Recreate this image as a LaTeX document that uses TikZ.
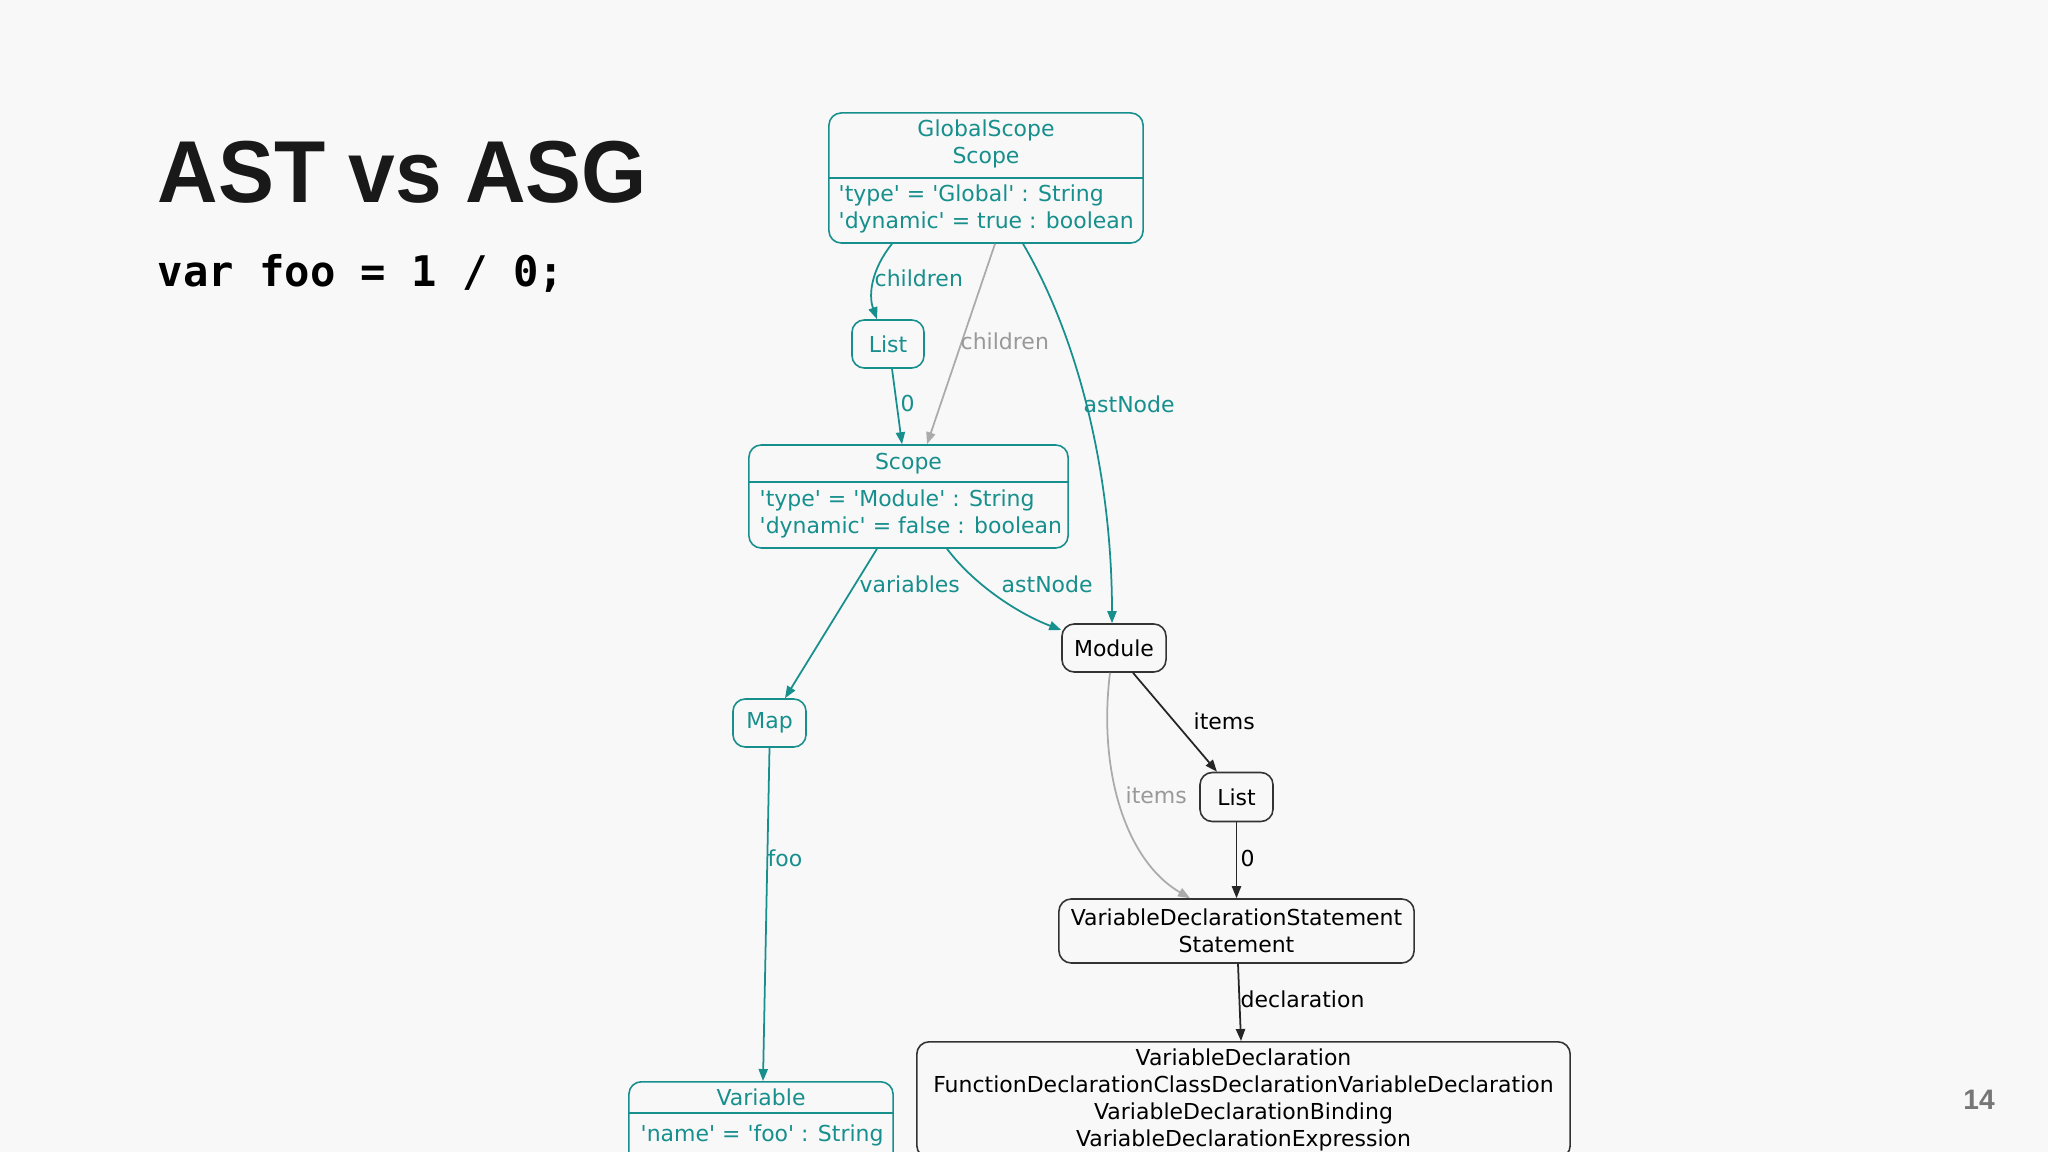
\documentclass[tikz,border=0pt]{standalone}
\usepackage{fontspec}
\usepackage{tikz}
\usetikzlibrary{arrows.meta}
\setmainfont{DejaVu Sans}
\newfontfamily\titlefont{Liberation Sans}
\newfontfamily\codefont{DejaVu Sans Mono}
\definecolor{bg}{HTML}{F8F8F9}
\definecolor{tealc}{HTML}{178F8C}
\definecolor{edgegray}{HTML}{ABABAB}
\definecolor{lblgray}{HTML}{999999}
\definecolor{pagegray}{HTML}{767676}
\newcommand\nodefont{\fontsize{6.25}{7.7}\selectfont}
\newcommand\squote{\textquotesingle}

\begin{document}
\begin{tikzpicture}[x=0.01cm,y=-0.01cm,
    >={Triangle[length=3.4pt,width=2.6pt]},
    box/.style={draw,rounded corners=3.5pt,line width=0.45pt,inner sep=0pt,font=\nodefont,align=center},
    tbox/.style={box,draw=tealc,text=tealc},
    kbox/.style={box,draw=black!80,text=black},
    lbl/.style={font=\nodefont,anchor=west,inner sep=0pt},
    tedge/.style={->,tealc,line width=0.5pt},
    gedge/.style={->,edgegray,line width=0.5pt},
    kedge/.style={->,black!85,line width=0.5pt}]
    \fill[bg] (0,0) rectangle (2048,1152);
    \clip (0,0) rectangle (2048,1152);

    \node[anchor=base west,inner sep=0pt,text=black!90,font=\titlefont\bfseries\fontsize{25}{30}\selectfont] (title) at (157,203) {\scalebox{0.954}[1]{AST vs ASG}};
    \node[anchor=base west,inner sep=0pt,font=\codefont\bfseries\fontsize{12}{14}\selectfont] (code) at (157,287) {var foo = 1 / 0;};
    \node[text=pagegray,font=\titlefont\bfseries\fontsize{8}{10}\selectfont] (page) at (1979,1100) {14};

    \node[tbox,minimum width=3.14cm,minimum height=1.30cm] (gscope) at (986,178) {};
    \draw[tealc,line width=0.45pt] (gscope.west) -- (gscope.east);
    \node[font=\nodefont,text=tealc,align=center,inner sep=0pt] (gscope-name) at (986,143.5) {GlobalScope\\Scope};
    \node[font=\nodefont,text=tealc,align=left,anchor=west,inner sep=0pt] (gscope-attr) at (838,208.5) {\squote type\squote{} = \squote Global\squote{} : String\\\squote dynamic\squote{} = true : boolean};

    \node[tbox,minimum width=0.72cm,minimum height=0.48cm] (list1) at (888,344) {List};

    \node[tbox,minimum width=3.19cm,minimum height=1.03cm] (scope) at (908.5,496.5) {};
    \draw[tealc,line width=0.45pt] ([yshift=-0.38cm]scope.north west) -- ([yshift=-0.38cm]scope.north east);
    \node[font=\nodefont,text=tealc,inner sep=0pt] (scope-name) at (908.5,464) {Scope};
    \node[font=\nodefont,text=tealc,align=left,anchor=west,inner sep=0pt] (scope-attr) at (759,513.5) {\squote type\squote{} = \squote Module\squote{} : String\\\squote dynamic\squote{} = false : boolean};

    \node[kbox,minimum width=1.04cm,minimum height=0.48cm] (module) at (1114,648) {Module};
    \node[tbox,minimum width=0.73cm,minimum height=0.48cm] (map) at (769.5,723) {Map};
    \node[kbox,minimum width=0.73cm,minimum height=0.49cm] (list2) at (1236.5,797) {List};
    \node[kbox,minimum width=3.55cm,minimum height=0.64cm] (vds) at (1236.5,931) {VariableDeclarationStatement\\Statement};
    \node[kbox,minimum width=6.53cm,minimum height=1.16cm,anchor=north] (vdecl) at (1243.5,1041) {VariableDeclaration\\FunctionDeclarationClassDeclarationVariableDeclaration\\VariableDeclarationBinding\\VariableDeclarationExpression};

    \node[tbox,minimum width=2.64cm,minimum height=0.9cm,anchor=north] (var) at (761,1081) {};
    \draw[tealc,line width=0.45pt] ([yshift=-0.32cm]var.north west) -- ([yshift=-0.32cm]var.north east);
    \node[font=\nodefont,text=tealc,inner sep=0pt] (var-name) at (761,1097) {Variable};
    \node[font=\nodefont,text=tealc,anchor=west,inner sep=0pt] (var-attr) at (640,1135) {\squote name\squote{} = \squote foo\squote{} : String};

    \draw[tedge] ([xshift=-0.94cm]gscope.south) .. controls +(-20,25) and +(-9,-25) .. ([xshift=-0.11cm]list1.north);
    \draw[gedge] ([xshift=0.09cm]gscope.south) -- ([xshift=0.185cm]scope.north);
    \draw[tedge] ([xshift=0.37cm]gscope.south) .. controls +(57,97) and +(0,-145) .. ([xshift=-0.02cm]module.north);
    \draw[tedge] ([xshift=0.04cm]list1.south) -- ([xshift=-0.065cm]scope.north);
    \draw[tedge] ([xshift=-0.315cm]scope.south) -- ([xshift=0.155cm]map.north);
    \draw[tedge] ([xshift=0.385cm]scope.south) .. controls +(28,37) and +(-42,-16) .. ([yshift=0.18cm]module.west);
    \draw[kedge] ([xshift=0.19cm]module.south) -- ([xshift=-0.195cm]list2.north);
    \draw[gedge] ([xshift=-0.04cm]module.south) .. controls +(-12,97) and +(-65,-38) .. ([xshift=-0.465cm]vds.north);
    \draw[kedge] (list2.south) -- (vds.north);
    \draw[kedge] ([xshift=0.015cm]vds.south) -- ([xshift=-0.025cm]vdecl.north);
    \draw[tedge] (map.south) -- ([xshift=0.02cm]var.north);

    \node[lbl,text=tealc] (l-children) at (874,278) {children};
    \node[lbl,text=lblgray] (l-children2) at (960,341) {children};
    \node[lbl,text=tealc] (l-zero1) at (900,404) {0};
    \node[lbl,text=tealc] (l-astnode1) at (1083,404) {astNode};
    \node[lbl,text=tealc] (l-variables) at (859,584) {variables};
    \node[lbl,text=tealc] (l-astnode2) at (1001,584) {astNode};
    \node[lbl] (l-items1) at (1193,721) {items};
    \node[lbl,text=lblgray] (l-items2) at (1125,795) {items};
    \node[lbl] (l-zero2) at (1240,858) {0};
    \node[lbl] (l-decl) at (1240,999) {declaration};
    \node[lbl,text=tealc] (l-foo) at (767,858) {foo};
\end{tikzpicture}
\end{document}
